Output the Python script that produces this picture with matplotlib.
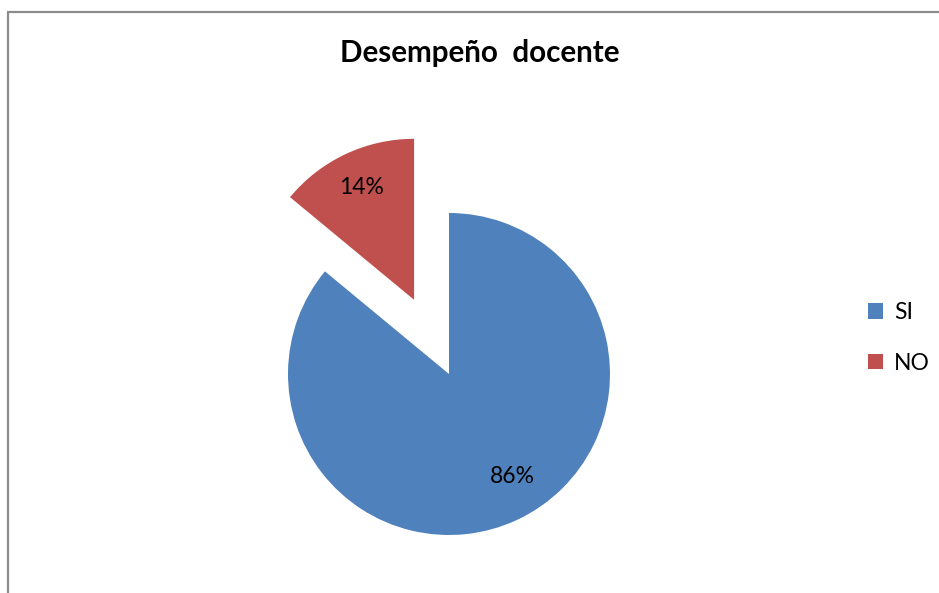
import matplotlib.pyplot as plt
from matplotlib.patches import Rectangle

# Datos del gráfico
categorias = ['SI', 'NO']
valores = [86, 14]
colores = ['#4F81BD', '#C0504D']
titulo = 'Desempeño  docente'

plt.rcParams['font.family'] = ['Lato', 'DejaVu Sans']

W, H = 939, 593
fig = plt.figure(figsize=(W / 100, H / 100), dpi=100)
ax = fig.add_axes([0, 0, 1, 1])

# marco del área del gráfico
ax.add_patch(Rectangle((7.5, -10), W + 20, H - 11.5 + 10, fill=False,
                       edgecolor='#8c8c8c', linewidth=1.6))

# en matplotlib el explode va en unidades de datos
wedges, textos, autotextos = ax.pie(
    valores, colors=colores, startangle=90, counterclock=False,
    explode=[0, 82], center=(449, H - 374), radius=161,
    autopct='%1.0f%%', pctdistance=0.77,
    textprops={'fontsize': 16.5, 'color': 'black'},
    wedgeprops={'linewidth': 0})
# la etiqueta del 86% queda un poco más arriba y a la derecha en el original
px, py = autotextos[0].get_position()
autotextos[0].set_position((px + 11, py + 10))

ax.set_xlim(0, W)
ax.set_ylim(0, H)
ax.set_aspect('equal')
ax.axis('off')

ax.text(480, H - 53, titulo, ha='center', va='center',
        fontsize=21.3, fontweight='bold')

fig.legend(wedges, categorias, loc='center left',
           bbox_to_anchor=(847 / W, 1 - 338 / H), frameon=False,
           fontsize=16.5, handlelength=0.65, handleheight=0.65,
           handletextpad=0.5, labelspacing=1.3)

fig.savefig('out.png', dpi=100)
